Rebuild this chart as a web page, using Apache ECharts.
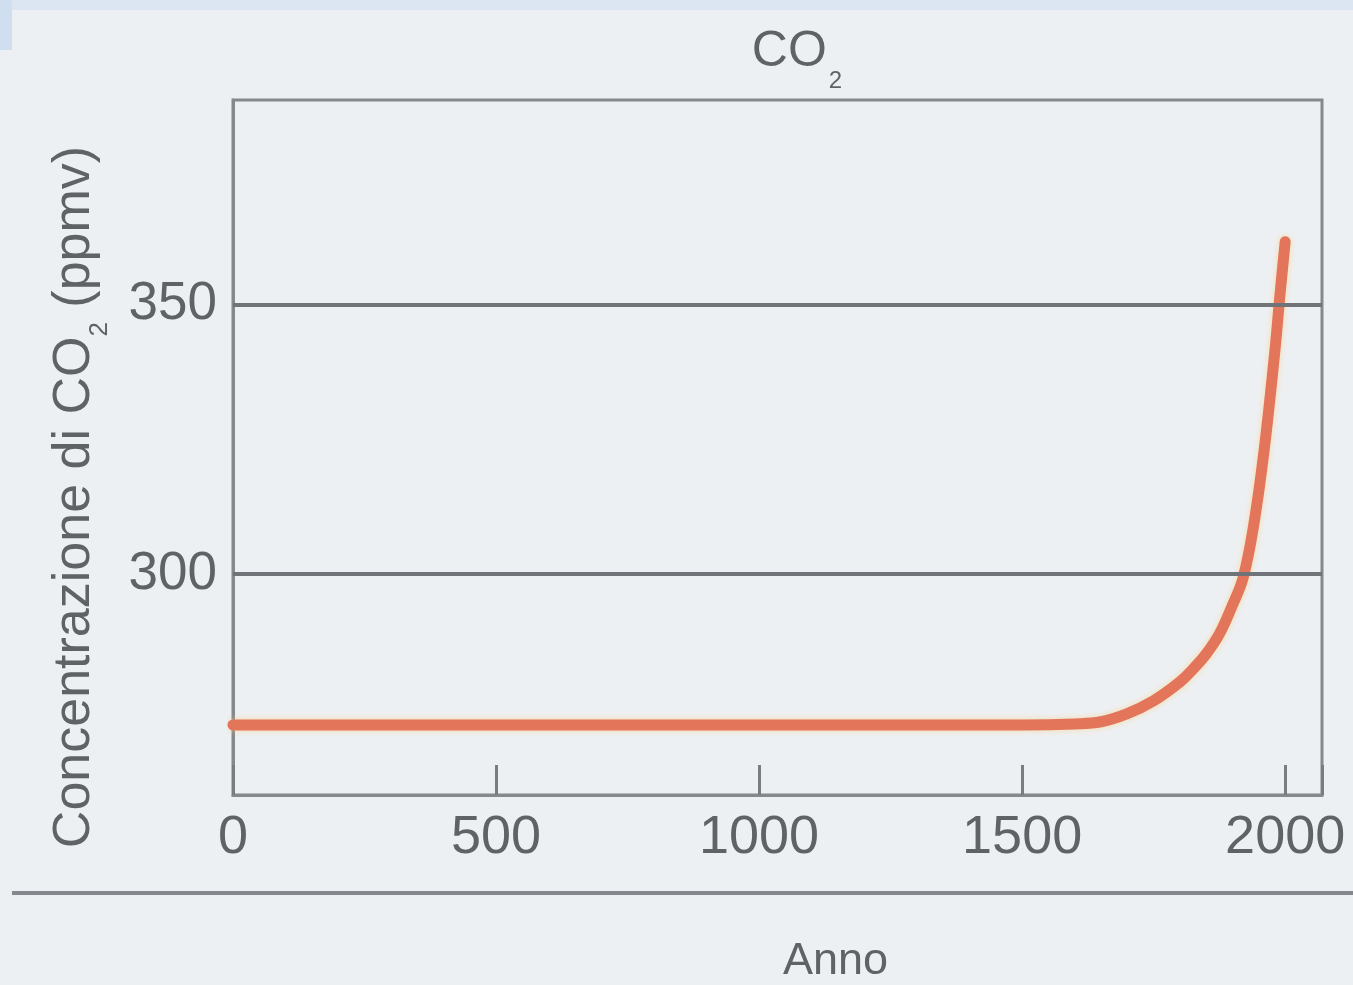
<!DOCTYPE html>
<html>
<head>
<meta charset="utf-8">
<script src="https://cdn.jsdelivr.net/npm/echarts@6/dist/echarts.min.js"></script>
<style>
html,body{margin:0;padding:0;background:#edf0f3;}
#c{width:1353px;height:985px;}
</style>
</head>
<body>
<div id="c"></div>
<script>
const years = [0, 500, 1000, 1500, 1600, 1650, 1700, 1750, 1800, 1825, 1850, 1875, 1900, 1920, 1940, 1960, 1980, 1990, 2000];
const co2 = [272, 272, 272, 272, 272.2, 272.6, 274.1, 276.5, 280, 282.4, 285.2, 288.9, 294.3, 299.3, 309, 323, 341, 351.7, 361.7];
const yTickValues = [300, 350];
const xTickLabels = ['0', '500', '1000', '1500', '2000'];

const chart = echarts.init(document.getElementById('c'));
const txt = '#5f6366';
const font = 'Liberation Sans, Arial, sans-serif';
chart.setOption({
  backgroundColor: '#edf0f3',
  animation: false,
  title: {
    text: '{a|CO}{s|2}',
    left: 792, top: 16, textAlign: 'center',
    textStyle: { fontWeight: 'normal', rich: {
      a: { fontSize: 50, color: txt, fontFamily: font, fontWeight: 'normal', verticalAlign: 'bottom', lineHeight: 56 },
      s: { fontSize: 24, color: txt, fontFamily: font, fontWeight: 'normal', verticalAlign: 'bottom', lineHeight: 40, padding: [0,0,-16,2] }
    } }
  },
  graphic: [
    { type: 'line', shape: { x1: 12, y1: 893, x2: 1353, y2: 893 }, style: { stroke: '#85888c', lineWidth: 4 } },
    { type: 'rect', shape: { x: 0, y: 0, width: 1353, height: 10 }, style: { fill: '#dbe6f2' }, z: -1 },
    { type: 'rect', shape: { x: 0, y: 0, width: 12, height: 50 }, style: { fill: '#cfdff0' }, z: -1 },
    { type: 'text', left: 783, top: 939, style: { text: 'Anno', fontSize: 45, fill: txt, fontFamily: font } },
    { type: 'text', x: 75, y: 497, rotation: Math.PI / 2,
      style: { text: '{a|Concentrazione di CO}{s|2}{a| (ppmv)}', align: 'center', verticalAlign: 'middle',
        rich: {
          a: { fontSize: 52, fill: txt, fontFamily: font },
          s: { fontSize: 26, fill: txt, fontFamily: font, verticalAlign: 'bottom', padding: [0,0,-12,0] }
        } } }
  ],
  grid: { left: 233, right: 31, top: 100, bottom: 190, show: true, borderColor: '#85888c', borderWidth: 3 },
  xAxis: {
    type: 'value', min: 0, max: 2070, interval: 500,
    axisLine: { show: true, lineStyle: { color: '#85888c', width: 3 } },
    axisTick: { show: true, inside: true, length: 30, lineStyle: { color: '#7a7d80', width: 3 } },
    splitLine: { show: false },
    axisLabel: { fontSize: 54, color: txt, fontFamily: font, margin: 16,
      formatter: v => xTickLabels[xTickLabels.indexOf(String(v))] || '' }
  },
  yAxis: {
    type: 'value', min: 259, max: 388,
    axisLine: { show: true, lineStyle: { color: '#85888c', width: 3 } },
    axisTick: { show: false },
    splitLine: { show: false },
    axisLabel: { fontSize: 53, color: txt, fontFamily: font, margin: 16, customValues: yTickValues }
  },
  series: [{
    type: 'line',
    data: years.map((y, i) => [y, co2[i]]),
    smooth: 0.4,
    showSymbol: false,
    lineStyle: { color: '#e3755a', width: 11, cap: 'round', shadowColor: 'rgba(255,205,120,0.6)', shadowBlur: 6 },
    markLine: {
      silent: true, symbol: 'none', label: { show: false },
      lineStyle: { color: '#707377', width: 4, type: 'solid' },
      data: yTickValues.map(v => ({ yAxis: v }))
    },
    z: 3
  }]
});
</script>
</body>
</html>
